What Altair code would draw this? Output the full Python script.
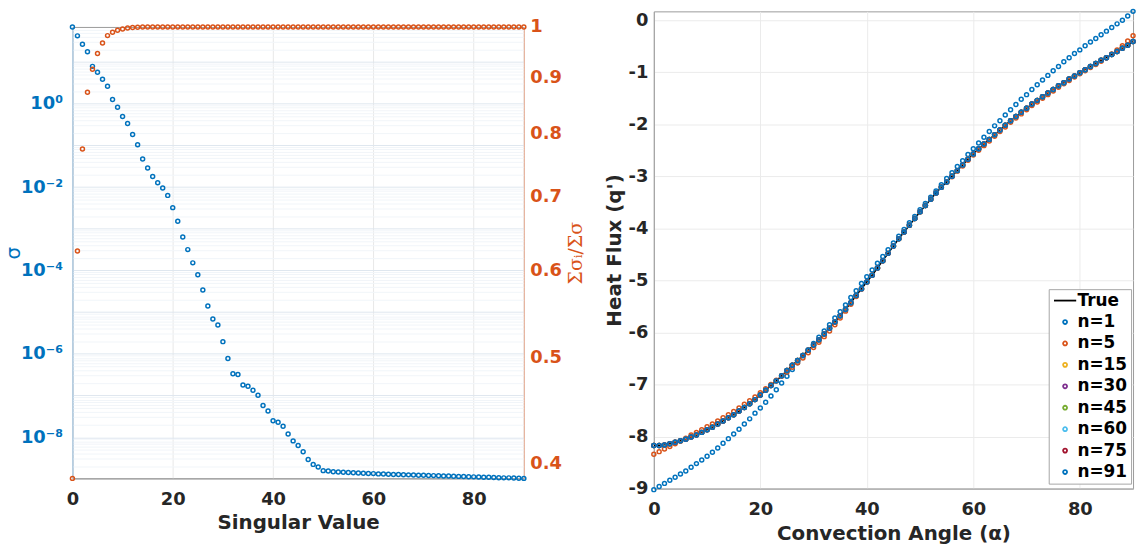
import altair as alt
import pandas as pd

BLUE = "#0072BD"
ORANGE = "#D95319"
INK = "#262626"
FONT = "DejaVu Sans"

# ---- singular value spectrum ----
sv_index = list(range(91))
sigma = [
    69.2, 42.3, 26.7, 17.6, 7.85, 5.65, 3.85, 2.62, 1.26, 0.817,
    0.490, 0.334, 0.183, 0.103, 0.0472, 0.0288, 0.0179, 0.01265, 0.00946, 0.00631,
    3.21e-3, 1.52e-3, 6.31e-4, 3.16e-4, 1.52e-4, 7.85e-5, 3.40e-5, 1.41e-5, 6.81e-6, 4.90e-6,
    1.96e-6, 7.73e-7, 3.34e-7, 3.21e-7, 1.79e-7, 1.66e-7, 1.34e-7, 1.02e-7, 5.78e-8, 4.23e-8,
    2.48e-8, 2.28e-8, 1.83e-8, 1.20e-8, 8.17e-9, 6.31e-9, 4.47e-9, 2.93e-9, 2.23e-9, 1.93e-9,
    1.58e-9, 1.55e-9, 1.49e-9, 1.46e-9, 1.44e-9, 1.42e-9, 1.40e-9, 1.38e-9, 1.37e-9, 1.35e-9,
    1.34e-9, 1.32e-9, 1.31e-9, 1.30e-9, 1.28e-9, 1.27e-9, 1.26e-9, 1.25e-9, 1.24e-9, 1.23e-9,
    1.22e-9, 1.21e-9, 1.20e-9, 1.19e-9, 1.18e-9, 1.17e-9, 1.16e-9, 1.15e-9, 1.14e-9, 1.13e-9,
    1.12e-9, 1.11e-9, 1.10e-9, 1.09e-9, 1.08e-9, 1.07e-9, 1.06e-9, 1.06e-9, 1.05e-9, 1.04e-9,
    1.03e-9,
]
energy_ratio = [
    0.388, 0.625, 0.774, 0.872, 0.915, 0.946, 0.967, 0.982, 0.989, 0.9932,
    0.9958, 0.998, 0.999, 0.9995, 0.9998, 0.9999,
] + [1.0] * 75

# ---- heat flux reconstructions ----
alpha = list(range(91))
q_true = [
    -8.17, -8.17, -8.16, -8.14, -8.11, -8.08, -8.05, -8.01, -7.97, -7.92,
    -7.87, -7.82, -7.76, -7.70, -7.64, -7.58, -7.51, -7.44, -7.37, -7.29,
    -7.20, -7.11, -7.02, -6.93, -6.83, -6.73, -6.63, -6.54, -6.44, -6.34,
    -6.24, -6.14, -6.03, -5.92, -5.80, -5.68, -5.56, -5.43, -5.29, -5.16,
    -5.03, -4.90, -4.76, -4.62, -4.48, -4.34, -4.20, -4.07, -3.94, -3.81,
    -3.68, -3.56, -3.44, -3.32, -3.21, -3.11, -3.00, -2.89, -2.78, -2.67,
    -2.57, -2.47, -2.38, -2.29, -2.20, -2.11, -2.02, -1.93, -1.85, -1.77,
    -1.69, -1.61, -1.54, -1.47, -1.40, -1.33, -1.26, -1.20, -1.13, -1.07,
    -1.01, -0.95, -0.89, -0.83, -0.77, -0.72, -0.66, -0.60, -0.54, -0.48,
    -0.41,
]
q_n1 = [
    -9.02, -8.96, -8.90, -8.84, -8.78, -8.72, -8.66, -8.59, -8.52, -8.45,
    -8.38, -8.30, -8.22, -8.13, -8.04, -7.95, -7.86, -7.76, -7.66, -7.55,
    -7.45, -7.34, -7.22, -7.10, -6.97, -6.84, -6.71, -6.58, -6.45, -6.33,
    -6.21, -6.09, -5.97, -5.85, -5.72, -5.60, -5.47, -5.33, -5.20, -5.06,
    -4.93, -4.80, -4.67, -4.54, -4.41, -4.28, -4.15, -4.02, -3.89, -3.77,
    -3.64, -3.52, -3.40, -3.28, -3.16, -3.04, -2.93, -2.81, -2.70, -2.58,
    -2.47, -2.36, -2.25, -2.14, -2.03, -1.93, -1.82, -1.72, -1.62, -1.52,
    -1.43, -1.33, -1.24, -1.15, -1.06, -0.97, -0.89, -0.80, -0.72, -0.64,
    -0.57, -0.49, -0.42, -0.35, -0.28, -0.21, -0.14, -0.07, 0.00, 0.08,
    0.17,
]
q_n5 = [
    -8.34, -8.29, -8.24, -8.19, -8.14, -8.09, -8.03, -7.97, -7.92, -7.87,
    -7.81, -7.76, -7.70, -7.64, -7.58, -7.52, -7.45, -7.38, -7.31, -7.24,
    -7.16, -7.08, -7.00, -6.92, -6.84, -6.76, -6.67, -6.58, -6.49, -6.39,
    -6.29, -6.19, -6.08, -5.97, -5.85, -5.72, -5.59, -5.46, -5.31, -5.17,
    -5.03, -4.90, -4.76, -4.62, -4.48, -4.34, -4.20, -4.07, -3.94, -3.81,
    -3.68, -3.56, -3.44, -3.32, -3.21, -3.11, -3.01, -2.90, -2.80, -2.69,
    -2.59, -2.50, -2.41, -2.32, -2.23, -2.14, -2.05, -1.96, -1.88, -1.80,
    -1.72, -1.64, -1.57, -1.50, -1.43, -1.36, -1.29, -1.22, -1.16, -1.09,
    -1.03, -0.97, -0.91, -0.85, -0.79, -0.72, -0.65, -0.57, -0.49, -0.40,
    -0.30,
]
# with 15 or more modes the reconstruction coincides with the true curve
recon = [
    ("n=1", q_n1), ("n=5", q_n5), ("n=15", q_true), ("n=30", q_true),
    ("n=45", q_true), ("n=60", q_true), ("n=75", q_true), ("n=91", q_true),
]
series_names = ["True", "n=1", "n=5", "n=15", "n=30", "n=45", "n=60", "n=75", "n=91"]
series_colors = ["#000000", BLUE, ORANGE, "#EDB120", "#7E2F8E",
                 "#77AC30", "#4DBEEE", "#A2142F", BLUE]

x_ticks = [0, 20, 40, 60, 80]
LEFT_W, LEFT_H = 455, 455
RIGHT_W, RIGHT_H = 483, 481

# ---------- left panel ----------
sv = pd.DataFrame({"k": sv_index, "sigma": sigma, "ratio": energy_ratio})
s_lo, s_hi = min(sigma), max(sigma)
grid_vals = [m * 10.0 ** e for e in range(-10, 3) for m in range(1, 10)]
grid_vals = [v for v in grid_vals if s_lo <= v <= s_hi]
is_decade = "abs(log(datum.value)/LN10 - round(log(datum.value)/LN10)) < 0.001"
expo = "round(log(datum.value)/LN10)"
sup_label = (
    f"({is_decade}) && {expo} % 2 == 0 ? '10' + ({expo} < 0 ? '\u207b' : '') + "
    f"['\u2070','\u00b9','\u00b2','\u00b3','\u2074','\u2075','\u2076','\u2077','\u2078','\u2079'][abs({expo})] : ''"
)

x_left = alt.X(
    "k:Q",
    scale=alt.Scale(domain=[0, 90], nice=False),
    axis=alt.Axis(
        values=x_ticks, grid=True, gridColor="#e8e8e8", ticks=False, tickSize=0,
        domainColor="#9a9a9a", labelColor=INK, labelFont=FONT, labelFontSize=18,
        labelFontWeight="bold", labelPadding=12.5, labelFlush=False,
        title="Singular Value", titleFont=FONT, titleFontSize=20,
        titleFontWeight="bold", titleColor=INK, titlePadding=4.5,
    ),
)

sigma_pts = alt.Chart(sv).mark_point(
    shape="circle", filled=False, size=16, strokeWidth=1.5, color=BLUE, opacity=1
).encode(
    x=x_left,
    y=alt.Y(
        "sigma:Q",
        scale=alt.Scale(type="log", domain=[s_lo, s_hi], nice=False),
        axis=alt.Axis(
            values=grid_vals, labelExpr=sup_label, labelOverlap=False, labelFlush=False,
            grid=True,
            gridColor={"condition": {"test": is_decade, "value": "#dfe7ef"}, "value": "#f1f5f9"},
            ticks=False, tickSize=0, domainColor="#9cc4e6",
            labelColor=BLUE, labelFont=FONT, labelFontSize=18, labelFontWeight="bold",
            labelPadding=10, title="\u03c3", titleColor=BLUE, titleFont=FONT,
            titleFontSize=20, titleFontWeight="normal",
            titleAngle=270, titleBaseline="middle", titleX=-59, titleY=LEFT_H / 2,
        ),
    ),
)

ratio_pts = alt.Chart(sv).mark_point(
    shape="circle", filled=False, size=16, strokeWidth=1.5, color=ORANGE, opacity=1
).encode(
    x=x_left,
    y=alt.Y(
        "ratio:Q",
        scale=alt.Scale(type="log", domain=[min(energy_ratio), max(energy_ratio)], nice=False),
        axis=alt.Axis(
            orient="right", values=[0.4, 0.5, 0.6, 0.7, 0.8, 0.9, 1.0],
            labelExpr="format(datum.value, '.1~f')", labelFlush=False, grid=False,
            ticks=False, tickSize=0, domainColor="#f2b79e", labelColor=ORANGE,
            labelFont=FONT, labelFontSize=18, labelFontWeight="bold", labelPadding=6,
            title="\u03a3\u03c3\u1d62/\u03a3\u03c3", titleColor=ORANGE,
            titleFont="DejaVu Serif", titleFontSize=19, titleFontWeight="normal",
            titleAngle=270, titleBaseline="middle", titleX=52, titleY=LEFT_H / 2,
        ),
    ),
)

left_plot = (
    alt.layer(sigma_pts, ratio_pts)
    .resolve_scale(y="independent")
    .properties(width=LEFT_W, height=LEFT_H)
)

# empty strip that lowers the spectrum panel below the top of the flux panel
spacer = (
    alt.Chart(pd.DataFrame({"k": [0]}))
    .mark_point(opacity=0)
    .encode(x=alt.X("k:Q", axis=None), y=alt.Y("k:Q", axis=None))
    .properties(width=LEFT_W, height=1, view=alt.ViewBackground(stroke="transparent"))
)
left = alt.vconcat(spacer, left_plot, spacing=1.7)

# ---------- right panel ----------
true_df = pd.DataFrame({"alpha": alpha, "q": q_true, "series": "True"})
rec_rows = []
for rank, (name, vals) in enumerate(recon):
    for a, v in zip(alpha, vals):
        rec_rows.append({"alpha": a, "q": v, "series": name, "rank": rank})
rec_df = pd.DataFrame(rec_rows)

color_scale = alt.Scale(domain=series_names, range=series_colors)
shape_scale = alt.Scale(domain=series_names, range=["M-5.6,0H5.6"] + ["circle"] * 8)
legend = alt.Legend(
    title=None, orient="none", legendX=984, legendY=280, fillColor="white",
    strokeColor="#a6a6a6", padding=3, rowPadding=3.6, symbolSize=16,
    symbolStrokeWidth=1.8, symbolOffset=5, labelOffset=4, labelFont=FONT,
    labelFontSize=17, labelFontWeight="bold", labelColor="#000000",
)

x_right = alt.X(
    "alpha:Q",
    scale=alt.Scale(domain=[0, 90], nice=False),
    axis=alt.Axis(
        values=x_ticks, grid=True, gridColor="#ebebeb", ticks=False, tickSize=0,
        domainColor="#9a9a9a", labelColor=INK, labelFont=FONT, labelFontSize=18,
        labelFontWeight="bold", labelPadding=12.5, labelFlush=False,
        title="Convection Angle (\u03b1)", titleFont=FONT, titleFontSize=20,
        titleFontWeight="bold", titleColor=INK, titlePadding=4.5,
    ),
)
y_right = alt.Y(
    "q:Q",
    scale=alt.Scale(domain=[-9, max(q_n1)], nice=False),
    axis=alt.Axis(
        values=list(range(-9, 1)), labelExpr="'' + datum.value", grid=True,
        gridColor="#ebebeb", ticks=False, tickSize=0, domainColor="#9a9a9a",
        labelColor=INK, labelFont=FONT, labelFontSize=18, labelFontWeight="bold",
        labelPadding=6, labelFlush=False, title="Heat Flux (q')", titleFont=FONT,
        titleFontSize=20, titleFontWeight="bold", titleColor=INK, titlePadding=4,
    ),
)

true_line = alt.Chart(true_df).mark_line(strokeWidth=1.5).encode(
    x=x_right, y=y_right,
    color=alt.Color("series:N", scale=color_scale, legend=legend),
)
recon_pts = alt.Chart(rec_df).mark_point(
    filled=False, size=16, strokeWidth=1.5, opacity=1
).encode(
    x=x_right, y=y_right,
    color=alt.Color("series:N", scale=color_scale, legend=legend),
    shape=alt.Shape("series:N", scale=shape_scale, legend=legend),
    order=alt.Order("rank:Q"),
)

right = alt.layer(true_line, recon_pts).properties(width=RIGHT_W, height=RIGHT_H)

chart = (
    alt.hconcat(left, right, spacing=17)
    .configure_view(stroke="#9a9a9a")
    .properties(background="white", padding={"left": 3, "top": 3.3, "right": 0, "bottom": 0})
)

chart.save("out.html", embed_options={"renderer": "svg", "actions": False})
